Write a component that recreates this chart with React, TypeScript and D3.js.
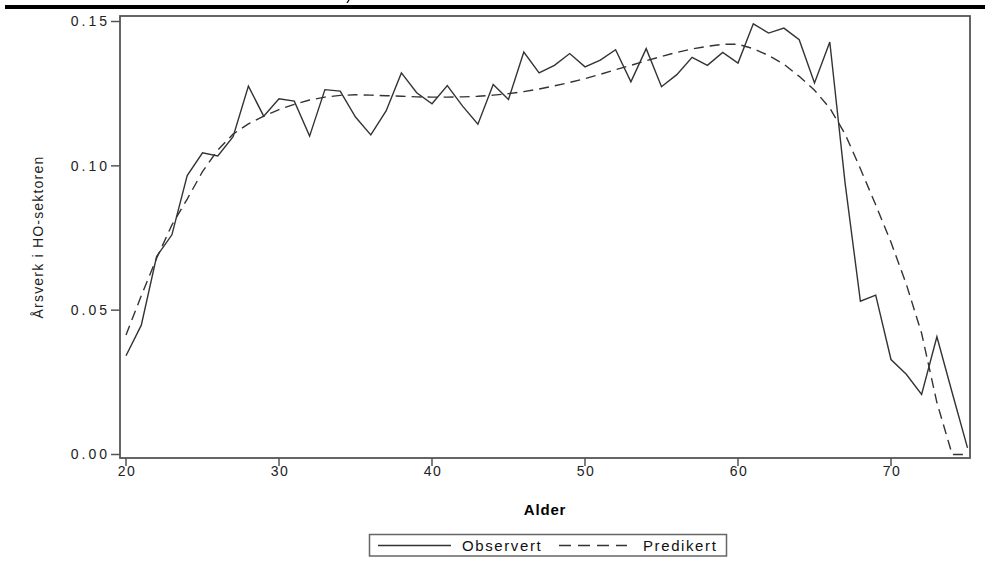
import React from "react";
import * as d3 from "d3";

const ages = d3.range(20, 76);

// Observed share (Observert), one per age 20..75
const observert = [
  0.0342, 0.0448, 0.0686, 0.0761, 0.0966, 0.1045, 0.1034, 0.1101, 0.1276, 0.1172,
  0.1232, 0.1224, 0.1103, 0.1264, 0.1259, 0.1169, 0.1107, 0.119, 0.1322, 0.1253,
  0.1215, 0.1278, 0.1207, 0.1144, 0.1282, 0.123, 0.1394, 0.1322, 0.1348, 0.1389,
  0.1343, 0.1366, 0.1402, 0.1291, 0.1406, 0.1274, 0.1316, 0.1376, 0.1348, 0.1393,
  0.1356, 0.1492, 0.146, 0.1477, 0.1437, 0.1287, 0.1429, 0.094, 0.0531, 0.0552,
  0.0329, 0.0278, 0.0208, 0.0408, 0.0214, 0.0023,
];

// Predicted share (Predikert)
const predikert = [
  0.0414, 0.055, 0.068, 0.0795, 0.0885, 0.098, 0.1055, 0.111, 0.1145, 0.1172,
  0.1195, 0.1213, 0.1228, 0.1238, 0.1244, 0.1246, 0.1245, 0.1243, 0.1241, 0.1239,
  0.1238, 0.1238, 0.1239, 0.1241, 0.1245, 0.125, 0.1257, 0.1266, 0.1277, 0.1289,
  0.1302, 0.1317, 0.1333, 0.1348, 0.1364, 0.1379, 0.1393, 0.1405, 0.1414, 0.1421,
  0.1421, 0.1406, 0.1382, 0.1352, 0.131, 0.1262, 0.12, 0.111, 0.099, 0.0865,
  0.0735, 0.059, 0.042, 0.018, 0.0, 0.0,
];

const xTicks = [20, 30, 40, 50, 60, 70];
const yTicks = [0, 0.05, 0.1, 0.15];

const W = 985;
const H = 566;
const font = "'Liberation Sans', Arial, sans-serif";
const axisColor = "#555";
const lineColor = "#333";

export default function App() {
  const x = d3.scaleLinear().domain([20, 75]).range([126, 967.5]);
  const y = d3.scaleLinear().domain([0, 0.15]).range([454.5, 21.5]);

  const frame = { left: 120, right: 970, top: 16, bottom: 458 };

  const line = d3
    .line<number>()
    .x((_, i) => x(ages[i]))
    .y((d) => y(d));

  return (
    <svg
      width={W}
      height={H}
      style={{ position: "absolute", left: 0, top: 0, background: "#fff" }}
      fontFamily={font}
    >
      {/* top rule, with the tail of a cropped-off title glyph above it */}
      <path d="M349,0 L347,3" stroke="#000" strokeWidth={1.3} fill="none" />
      <rect x={5} y={5} width={W - 5} height={4} fill="#000" />

      {/* plot frame */}
      <rect
        x={frame.left}
        y={frame.top}
        width={frame.right - frame.left}
        height={frame.bottom - frame.top}
        fill="none"
        stroke={axisColor}
        strokeWidth={1.8}
      />

      {/* y axis ticks */}
      {yTicks.map((t) => (
        <g key={t}>
          <line x1={frame.left - 9} x2={frame.left} y1={y(t)} y2={y(t)} stroke={axisColor} strokeWidth={1.5} />
          <text
            x={frame.left - 10}
            y={y(t)}
            dy="0.35em"
            textAnchor="end"
            fontSize={14}
            letterSpacing={3}
            fill="#222"
          >
            {d3.format(".2f")(t)}
          </text>
        </g>
      ))}

      {/* x axis ticks */}
      {xTicks.map((t) => (
        <g key={t}>
          <line x1={x(t)} x2={x(t)} y1={frame.bottom} y2={frame.bottom + 8} stroke={axisColor} strokeWidth={1.5} />
          <text x={x(t) + 1} y={476} textAnchor="middle" fontSize={14} letterSpacing={1.5} fill="#222">
            {t}
          </text>
        </g>
      ))}

      <text
        x={(frame.left + frame.right) / 2}
        y={515}
        textAnchor="middle"
        fontSize={15}
        fontWeight="bold"
        letterSpacing={0.8}
        fill="#000"
      >
        Alder
      </text>

      <text
        transform={`translate(43,${(frame.top + frame.bottom) / 2}) rotate(-90)`}
        textAnchor="middle"
        fontSize={14}
        letterSpacing={1.2}
        fill="#222"
      >
        Årsverk i HO-sektoren
      </text>

      {/* series */}
      <path d={line(predikert) ?? ""} fill="none" stroke={lineColor} strokeWidth={1.4} strokeDasharray="10,6" />
      <path d={line(observert) ?? ""} fill="none" stroke={lineColor} strokeWidth={1.4} />

      {/* legend */}
      <rect x={369.5} y={534.5} width={357} height={21.5} fill="#fff" stroke="#666" strokeWidth={1.5} />
      <line x1={378} x2={451} y1={545.5} y2={545.5} stroke={lineColor} strokeWidth={1.4} />
      <text x={462} y={550.5} fontSize={15} letterSpacing={1.6} fill="#111">Observert</text>
      <line x1={559} x2={627} y1={545.5} y2={545.5} stroke={lineColor} strokeWidth={1.4} strokeDasharray="12,7" />
      <text x={643} y={550.5} fontSize={15} letterSpacing={1.6} fill="#111">Predikert</text>
    </svg>
  );
}
